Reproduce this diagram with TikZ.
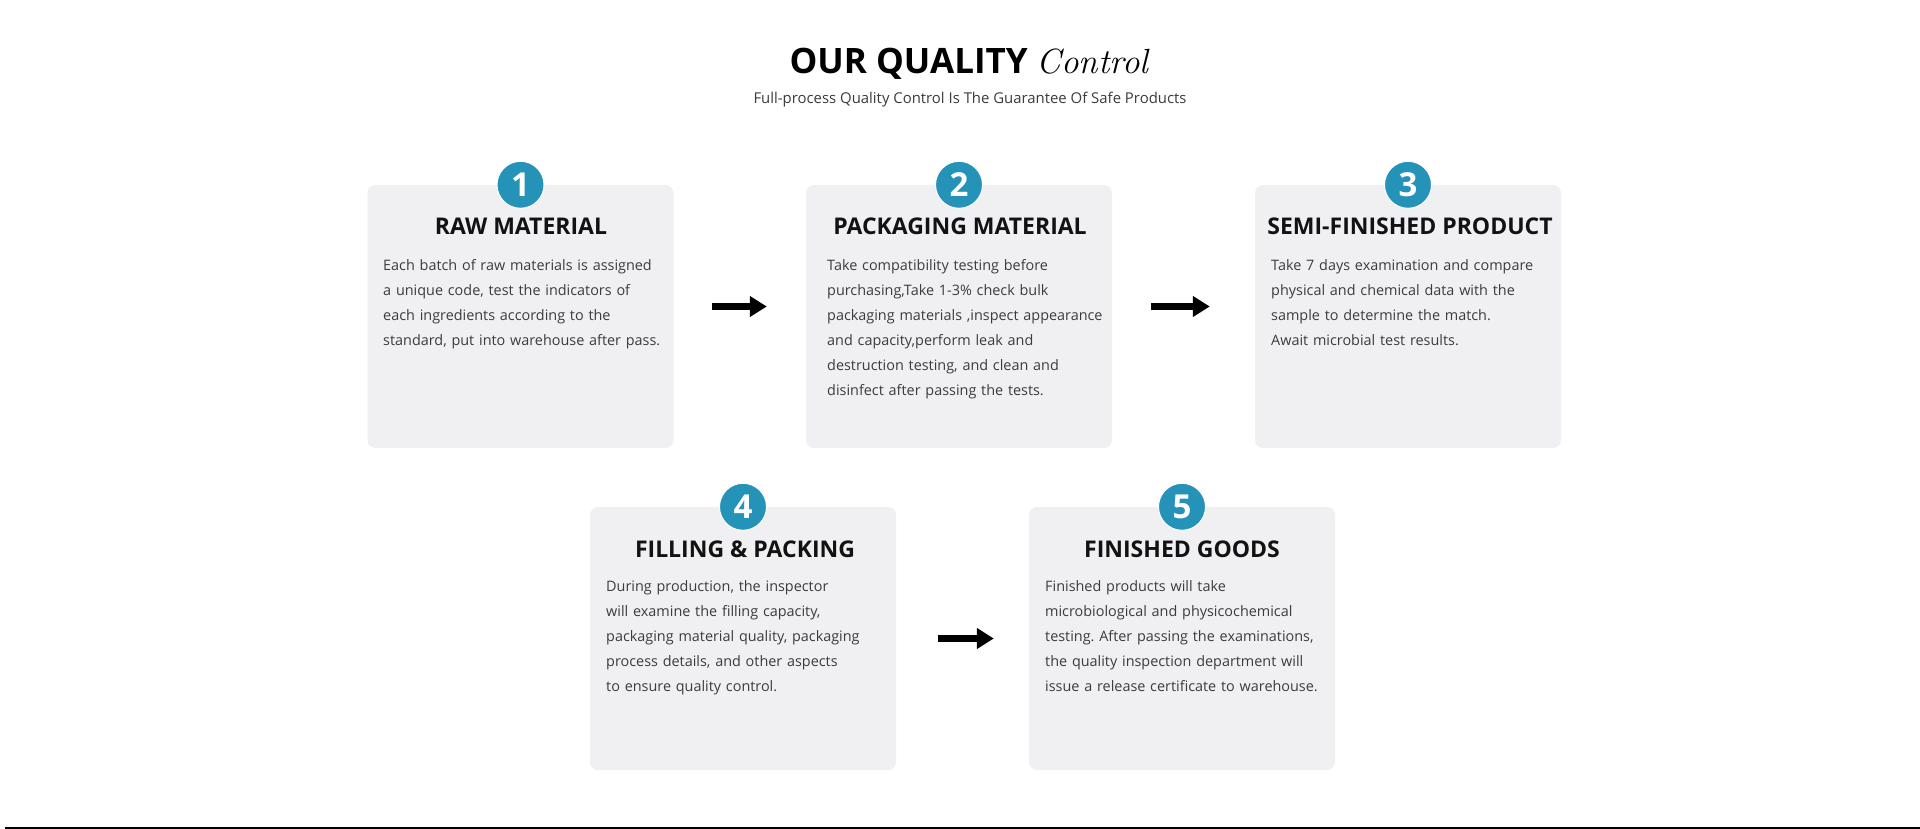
\documentclass[tikz,border=0pt]{standalone}
\usepackage{fontspec}
\setsansfont{Open Sans}
\usetikzlibrary{arrows.meta,positioning}
\definecolor{cardgray}{HTML}{F0F0F2}
\definecolor{badgeblue}{HTML}{2592B8}
\definecolor{bodygray}{HTML}{3C3C3C}
\frenchspacing
\tikzset{
  card/.style={fill=cardgray,rounded corners=8pt,minimum width=306pt,minimum height=263pt,inner sep=0pt},
  badge/.style={circle,fill=badgeblue,draw=white,line width=1pt,minimum size=47pt,inner sep=0pt,
    text=white,font=\sffamily\bfseries\fontsize{33}{33}\selectfont},
  cardtitle/.style={font=\sffamily\bfseries\fontsize{23}{23}\selectfont,text=black!93,inner sep=0pt,anchor=base},
  cardtext/.style={font=\sffamily\fontsize{14.4}{25}\selectfont,text=bodygray,inner sep=0pt,
    anchor=north west,text width=290pt,align=left},
  flowarrow/.style={line width=7pt,-{Triangle[length=17pt,width=20pt]}}
}
\begin{document}
\begin{tikzpicture}[x=1pt,y=-1pt]
\useasboundingbox[fill=white] (0,0) rectangle (1920,829);
% heading
\node[inner sep=0pt,anchor=base] (head) at (969,74)
  {\sffamily\bfseries\fontsize{35}{35}\selectfont OUR QUALITY \rmfamily\mdseries\itshape\fontsize{35}{35}\selectfont Control};
\node[inner sep=0pt,anchor=base,font=\sffamily\fontsize{14.9}{14.9}\selectfont,text=bodygray] (sub) at (970,104)
  {Full-process Quality Control Is The Guarantee Of Safe Products};

% cards, top row
\node[card] (c1) at (520.5,316.5) {};
\node[card] (c2) at (959,316.5) {};
\node[card] (c3) at (1408,316.5) {};
% cards, bottom row
\node[card] (c4) at (743,638.5) {};
\node[card] (c5) at (1182,638.5) {};

\node[badge] (n1) at (c1.north) {1};
\node[badge] (n2) at (c2.north) {2};
\node[badge] (n3) at (c3.north) {3};
\node[badge] (n4) at (c4.north) {4};
\node[badge] (n5) at (c5.north) {5};

\node[cardtitle] (t1) at (521,235) {RAW MATERIAL};
\node[cardtitle] (t2) at (960,235) {PACKAGING MATERIAL};
\node[cardtitle] (t3) at (1410,235) {SEMI-FINISHED PRODUCT};
\node[cardtitle] (t4) at (745,557) {FILLING \& PACKING};
\node[cardtitle] (t5) at (1182,557) {FINISHED GOODS};

\node[cardtext] (b1) at (383,259) {Each batch of raw materials is assigned\\
a unique code, test the indicators of\\
each ingredients according to the\\
standard, put into warehouse after pass.};
\node[cardtext] (b2) at (827,259) {Take compatibility testing before\\
purchasing,Take 1-3\% check bulk\\
packaging materials ,inspect appearance\\
and capacity,perform leak and\\
destruction testing, and clean and\\
disinfect after passing the tests.};
\node[cardtext] (b3) at (1271,259) {Take 7 days examination and compare\\
physical and chemical data with the\\
sample to determine the match.\\
Await microbial test results.};
\node[cardtext] (b4) at (606,580) {During production, the inspector\\
will examine the filling capacity,\\
packaging material quality, packaging\\
process details, and other aspects\\
to ensure quality control.};
\node[cardtext] (b5) at (1045,580) {Finished products will take\\
microbiological and physicochemical\\
testing. After passing the examinations,\\
the quality inspection department will\\
issue a release certificate to warehouse.};

% arrows between cards
\draw[flowarrow,shorten <=38pt,shorten >=39pt] ([yshift=10pt]c1.east) -- ([yshift=10pt]c2.west);
\draw[flowarrow,shorten <=39pt,shorten >=45pt] ([yshift=10pt]c2.east) -- ([yshift=10pt]c3.west);
\draw[flowarrow,shorten <=42pt,shorten >=35pt] (c4.east) -- (c5.west);

\draw[black,line width=2pt] (5,828) -- (1920,828);
\end{tikzpicture}
\end{document}
